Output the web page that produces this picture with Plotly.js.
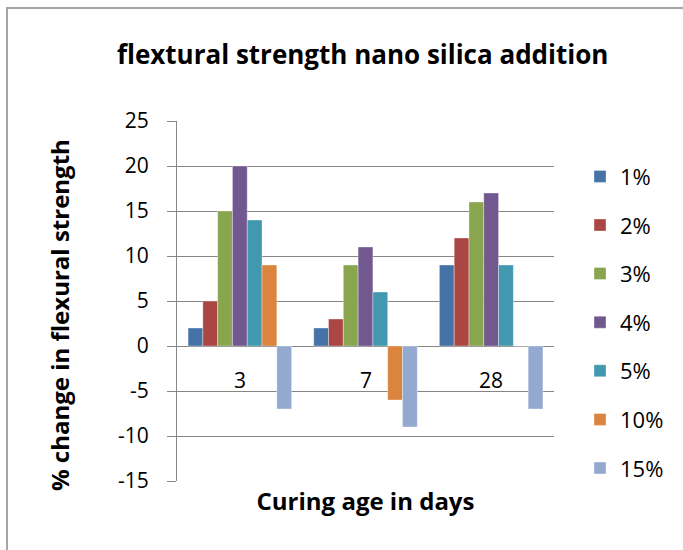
<!DOCTYPE html>
<html>
<head>
<meta charset="utf-8">
<script src="https://cdn.plot.ly/plotly-3.0.1.min.js"></script>
<style>
  html, body { margin: 0; padding: 0; overflow: hidden; background: #fff; }
  #wrap { position: relative; width: 683px; height: 550px; overflow: hidden; }
  #chart { position: absolute; left: 0; top: 0; width: 683px; height: 550px; }
  #frame { position: absolute; left: 6px; top: 7px; width: 700px; height: 600px; border: 2px solid #a6a6a6; pointer-events: none; }
</style>
</head>
<body>
<div id="wrap">
  <div id="chart"></div>
  <div id="frame"></div>
</div>
<script>
const categories = ['3', '7', '28'];
const seriesNames = ['1%', '2%', '3%', '4%', '5%', '10%', '15%'];
const s1 = [2, 2, 9];
const s2 = [5, 3, 12];
const s3 = [15, 9, 16];
const s4 = [20, 11, 17];
const s5 = [14, 6, 9];
const s10 = [9, -6, 0];
const s15 = [-7, -9, -7];
const seriesValues = [s1, s2, s3, s4, s5, s10, s15];
const colors = ['#4572A7', '#AA4643', '#89A54E', '#71588F', '#4198AF', '#DB843D', '#93A9CF'];
const yTicks = [-15, -10, -5, 0, 5, 10, 15, 20, 25];
const yTitle = '% change in flexural strength';
const xTitle = 'Curing age in days';
const chartTitle = 'flextural strength nano silica addition';

const FONT = '"Open Sans", "Noto Sans", sans-serif';

const traces = seriesNames.map((name, i) => ({
  type: 'bar',
  name: name,
  x: categories,
  y: seriesValues[i],
  legendgroup: 'g' + i,
  marker: { color: colors[i], line: { color: 'rgba(255,255,255,0.6)', width: 0.6 } },
  hoverinfo: 'x+y+name'
}));

const annotations = categories.map((c, i) => ({
  x: i, y: 0, xref: 'x', yref: 'y',
  text: c, showarrow: false,
  yanchor: 'middle', yshift: -34,
  font: { family: FONT, size: 21, color: '#000' }
}));
annotations.push({
  x: -0.313, y: 0.461, xref: 'paper', yref: 'paper',
  text: '<b>' + yTitle + '</b>', showarrow: false,
  textangle: -90, xanchor: 'center', yanchor: 'middle',
  font: { family: FONT, size: 24, color: '#000' }
});

const layout = {
  width: 683, height: 550,
  margin: { l: 177, r: 129, t: 121, b: 69 },
  paper_bgcolor: '#fff', plot_bgcolor: '#fff',
  barmode: 'group',
  bargap: 0.176,
  bargroupgap: 0,
  title: {
    text: '<b>' + chartTitle + '</b>',
    x: 0.531, xanchor: 'center',
    y: 0.9, yanchor: 'middle',
    font: { family: FONT, size: 26, color: '#000' }
  },
  xaxis: {
    type: 'category',
    range: [-0.5, 2.5],
    autorange: false,
    showticklabels: false,
    ticks: '',
    showgrid: false,
    zeroline: false,
    showline: false,
    title: { text: '<b>' + xTitle + '</b>', standoff: 12, font: { family: FONT, size: 24, color: '#000' } }
  },
  yaxis: {
    range: [-15, 25],
    autorange: false,
    tickvals: yTicks,
    ticktext: yTicks.map(v => String(v)),
    ticks: 'outside', ticklen: 9, tickcolor: '#868686', tickwidth: 1,
    showline: true, linecolor: '#868686', linewidth: 1,
    showgrid: true, gridcolor: '#868686', gridwidth: 1,
    zeroline: true, zerolinecolor: '#868686', zerolinewidth: 1,
    ticklabelstandoff: 14,
    tickfont: { family: FONT, size: 21, color: '#000' }
  },
  legend: {
    x: 1.069, xanchor: 'left', xref: 'paper',
    y: 0.44, yanchor: 'middle',
    font: { family: FONT, size: 22, color: '#000' },
    tracegroupgap: 17,
    itemwidth: 30,
    bgcolor: 'rgba(0,0,0,0)'
  },
  annotations: annotations,
  showlegend: true
};

Plotly.newPlot('chart', traces, layout, { displayModeBar: false, staticPlot: true });
</script>
</body>
</html>
